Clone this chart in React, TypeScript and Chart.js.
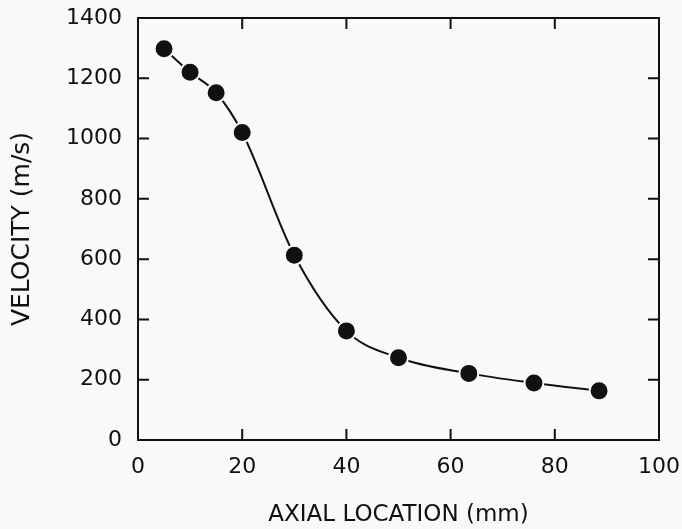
import React, { useEffect, useRef } from "react";
import { Chart, registerables } from "chart.js";

Chart.register(...registerables);

const axialLocation = [5, 10, 15, 20, 30, 40, 50, 63.5, 76, 88.5];
const velocity = [1298, 1220, 1152, 1020, 613, 362, 273, 221, 189, 163];
const xTickValues = [0, 20, 40, 60, 80, 100];
const yTickValues = [0, 200, 400, 600, 800, 1000, 1200, 1400];
const xTitle = "AXIAL LOCATION (mm)";
const yTitle = "VELOCITY (m/s)";

const BG = "#f9f9f9";
const INK = "#111111";
const FONT = "'DejaVu Sans', sans-serif";

const framePlugin = {
  id: "frame",
  beforeDraw(chart: any) {
    const { ctx, width, height } = chart;
    ctx.save();
    ctx.fillStyle = BG;
    ctx.fillRect(0, 0, width, height);
    ctx.restore();
  },
  beforeDatasetsDraw(chart: any) {
    const { ctx, chartArea } = chart;
    const { left, right, top, bottom } = chartArea;
    const xs = chart.scales.x;
    const ys = chart.scales.y;
    const len = 11;
    ctx.save();
    ctx.strokeStyle = INK;
    ctx.lineWidth = 2;
    ctx.strokeRect(left, top, right - left, bottom - top);
    ctx.beginPath();
    xTickValues.forEach((v) => {
      const px = xs.getPixelForValue(v);
      ctx.moveTo(px, bottom);
      ctx.lineTo(px, bottom - len);
      ctx.moveTo(px, top);
      ctx.lineTo(px, top + len);
    });
    yTickValues.forEach((v) => {
      const py = ys.getPixelForValue(v);
      ctx.moveTo(left, py);
      ctx.lineTo(left + len, py);
      ctx.moveTo(right, py);
      ctx.lineTo(right - len, py);
    });
    ctx.stroke();
    ctx.restore();
  },
};

export default function App() {
  const ref = useRef<HTMLCanvasElement | null>(null);

  useEffect(() => {
    if (!ref.current) return;
    const chart = new Chart(ref.current, {
      type: "line",
      data: {
        datasets: [
          {
            data: axialLocation.map((x, i) => ({ x, y: velocity[i] })),
            borderColor: INK,
            borderWidth: 2,
            backgroundColor: INK,
            pointBackgroundColor: INK,
            pointBorderColor: BG,
            pointBorderWidth: 2,
            pointRadius: 9.5,
            cubicInterpolationMode: "monotone",
            fill: false,
          },
        ],
      },
      options: {
        animation: false,
        responsive: true,
        maintainAspectRatio: false,
        layout: { padding: { top: 18, right: 23, left: 0, bottom: 0 } },
        plugins: {
          legend: { display: false },
          tooltip: { enabled: false },
          title: { display: false },
        },
        scales: {
          x: {
            type: "linear",
            min: 0,
            max: 100,
            afterBuildTicks: (scale: any) => {
              scale.ticks = xTickValues.map((v) => ({ value: v }));
            },
            afterFit: (scale: any) => {
              scale.height = 89;
              scale.paddingLeft = 0;
              scale.paddingRight = 0;
            },
            grid: { display: false, drawTicks: false },
            border: { display: false },
            ticks: {
              color: INK,
              padding: 14,
              maxRotation: 0,
              font: { family: FONT, size: 22 },
              callback: (v: any) => String(v),
            },
            title: {
              display: true,
              text: xTitle,
              color: INK,
              font: { family: FONT, size: 23 },
              padding: { top: 0, bottom: 0 },
            },
          },
          y: {
            type: "linear",
            min: 0,
            max: 1400,
            afterBuildTicks: (scale: any) => {
              scale.ticks = yTickValues.map((v) => ({ value: v }));
            },
            afterFit: (scale: any) => {
              scale.width = 138;
              scale.paddingTop = 0;
              scale.paddingBottom = 0;
            },
            grid: { display: false, drawTicks: false },
            border: { display: false },
            ticks: {
              color: INK,
              padding: 16,
              font: { family: FONT, size: 22 },
              callback: (v: any) => String(v),
            },
            title: {
              display: true,
              text: yTitle,
              color: INK,
              font: { family: FONT, size: 25 },
              padding: { top: 7, bottom: 0 },
            },
          },
        },
      },
      plugins: [framePlugin],
    });
    return () => chart.destroy();
  }, []);

  return (
    <div
      style={{
        position: "fixed",
        left: 0,
        top: 0,
        width: 682,
        height: 529,
        background: BG,
      }}
    >
      <canvas ref={ref} />
    </div>
  );
}
